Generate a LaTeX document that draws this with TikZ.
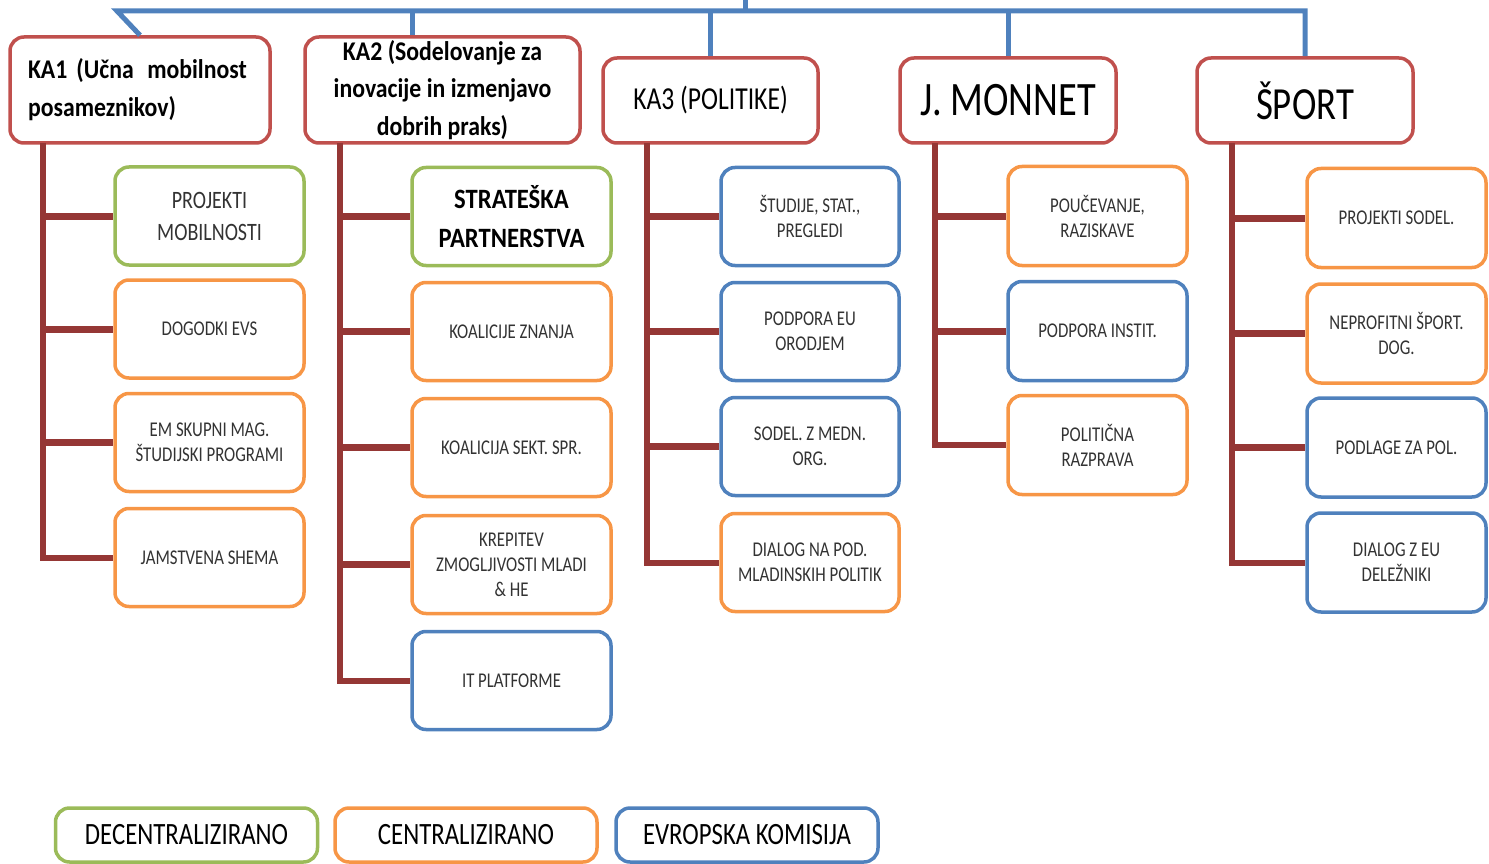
\documentclass[tikz,border=0pt]{standalone}
\usepackage{fontspec}
\setmainfont{Carlito}
\newfontfamily\cf[FakeStretch=0.8]{Carlito}
\newfontfamily\cfb[FakeStretch=0.88]{Carlito}
\definecolor{cgreen}{HTML}{9BBB59}
\definecolor{corange}{HTML}{F79646}
\definecolor{cblue}{HTML}{4F81BD}
\definecolor{cred}{HTML}{C0504D}
\definecolor{ctrunk}{HTML}{953735}
\definecolor{ctext}{HTML}{333333}
\tikzset{
  box/.style={draw=#1, line width=3.5pt, rounded corners=14pt, fill=white, align=center, inner sep=2pt, text=ctext},
  head/.style={box=cred, text=black},
  trunk/.style={draw=ctrunk, line width=6pt, line join=miter},
  branch/.style={draw=ctrunk, line width=7pt},
  top/.style={draw=cblue, line width=5pt},
  small/.style={font=\cf\fontsize{21}{25}\selectfont},
}
\begin{document}
\begin{tikzpicture}[x=1pt,y=-1pt]
\useasboundingbox (0,0) rectangle (1489,864);

% headers
\node[head, minimum width=260pt, minimum height=106pt, text width=224pt, align=left, font=\cfb\bfseries\fontsize{27}{38}\selectfont] (ka1) at (140,90) {KA1 (Učna\, mobilnost\\posameznikov)};
\node[head, minimum width=275pt, minimum height=106pt, font=\cfb\bfseries\fontsize{27}{37.5}\selectfont] (ka2) at (442.5,90) {KA2 (Sodelovanje za\\inovacije in izmenjavo\\dobrih praks)};
\node[head, minimum width=215pt, minimum height=85pt, font=\cf\fontsize{32}{38}\selectfont] (ka3) at (710.5,100.5) {KA3 (POLITIKE)};
\node[head, minimum width=216pt, minimum height=85pt, font=\cf\fontsize{48}{50}\selectfont] (jm) at (1008,100.5) {J. MONNET};
\node[head, minimum width=216pt, minimum height=85pt, font=\cf\fontsize{46}{50}\selectfont] (sp) at (1305,100.5) {ŠPORT};

% top connectors
\coordinate (up) at (745,0);
\coordinate (bl) at (117,11);
\coordinate (br) at (1305,11);
\draw[top] (up) -- (up |- bl);
\draw[top] (ka1.north) -- (bl) -- (br) -- (sp.north);
\draw[top] (ka2.north -| 412,0) -- (412,11);
\draw[top] (ka3.north) -- (ka3.north |- bl);
\draw[top] (jm.north) -- (jm.north |- bl);

% KA1 children
\begin{scope}[every node/.style={box, minimum width=189pt, minimum height=98pt, small}]
\node[draw=cgreen, font=\cf\fontsize{25}{32}\selectfont] (a1) at (209.5,216) {PROJEKTI\\MOBILNOSTI};
\node[draw=corange] (a2) at (209.5,329) {DOGODKI EVS};
\node[draw=corange] (a3) at (209.5,442.5) {EM SKUPNI MAG.\\ŠTUDIJSKI PROGRAMI};
\node[draw=corange] (a4) at (209.5,557.5) {JAMSTVENA SHEMA};
\end{scope}

% KA2 children
\begin{scope}[every node/.style={box, minimum width=199pt, minimum height=98pt, small}]
\node[draw=cgreen, font=\cfb\bfseries\fontsize{28}{39}\selectfont, text=black] (b1) at (511.5,216.5) {STRATEŠKA\\PARTNERSTVA};
\node[draw=corange] (b2) at (511.5,331.5) {KOALICIJE ZNANJA};
\node[draw=corange] (b3) at (511.5,447.5) {KOALICIJA SEKT. SPR.};
\node[draw=corange] (b4) at (511.5,564.5) {KREPITEV\\ZMOGLJIVOSTI MLADI\\\& HE};
\node[draw=cblue] (b5) at (511.5,680.5) {IT PLATFORME};
\end{scope}

% KA3 children
\begin{scope}[every node/.style={box, minimum width=178pt, minimum height=98pt, small}]
\node[draw=cblue] (c1) at (810,216.5) {ŠTUDIJE, STAT.,\\PREGLEDI};
\node[draw=cblue] (c2) at (810,331.5) {PODPORA EU\\ORODJEM};
\node[draw=cblue] (c3) at (810,446.5) {SODEL. Z MEDN.\\ORG.};
\node[draw=corange] (c4) at (810,562.5) {DIALOG NA POD.\\MLADINSKIH POLITIK};
\end{scope}

% J. MONNET children
\begin{scope}[every node/.style={box, minimum width=179pt, minimum height=99pt, small}]
\node[draw=corange] (d1) at (1097.5,216) {POUČEVANJE,\\RAZISKAVE};
\node[draw=cblue] (d2) at (1097.5,331) {PODPORA INSTIT.};
\node[draw=corange] (d3) at (1097.5,445) {POLITIČNA\\RAZPRAVA};
\end{scope}

% SPORT children
\begin{scope}[every node/.style={box, minimum width=179pt, minimum height=99pt, small}]
\node[draw=corange] (e1) at (1396.5,218) {PROJEKTI SODEL.};
\node[draw=corange] (e2) at (1396.5,333.5) {NEPROFITNI ŠPORT.\\DOG.};
\node[draw=cblue] (e3) at (1396.5,447.5) {PODLAGE ZA POL.};
\node[draw=cblue] (e4) at (1396.5,562.5) {DIALOG Z EU\\DELEŽNIKI};
\end{scope}

% trunks and branches
\coordinate (t1) at (43,143);
\coordinate (t2) at (340,143);
\coordinate (t3) at (647,143);
\coordinate (t4) at (935,143);
\coordinate (t5) at (1232,143);
\foreach \t/\last/\kids in {t1/a4/{a1,a2,a3}, t2/b5/{b1,b2,b3,b4}, t3/c4/{c1,c2,c3}, t4/d3/{d1,d2}, t5/e4/{e1,e2,e3}}{
  \draw[trunk] (\t) |- (\last.west);
  \foreach \k in \kids { \draw[branch] (\t |- \k.west) -- (\k.west); }
}

% legend
\begin{scope}[every node/.style={box, minimum width=262pt, minimum height=54pt, font=\cf\fontsize{31}{34}\selectfont, text=black}]
\node[draw=cgreen] (l1) at (186.5,835) {DECENTRALIZIRANO};
\node[draw=corange] (l2) at (466,835) {CENTRALIZIRANO};
\node[draw=cblue] (l3) at (747,835) {EVROPSKA KOMISIJA};
\end{scope}
\end{tikzpicture}
\end{document}
